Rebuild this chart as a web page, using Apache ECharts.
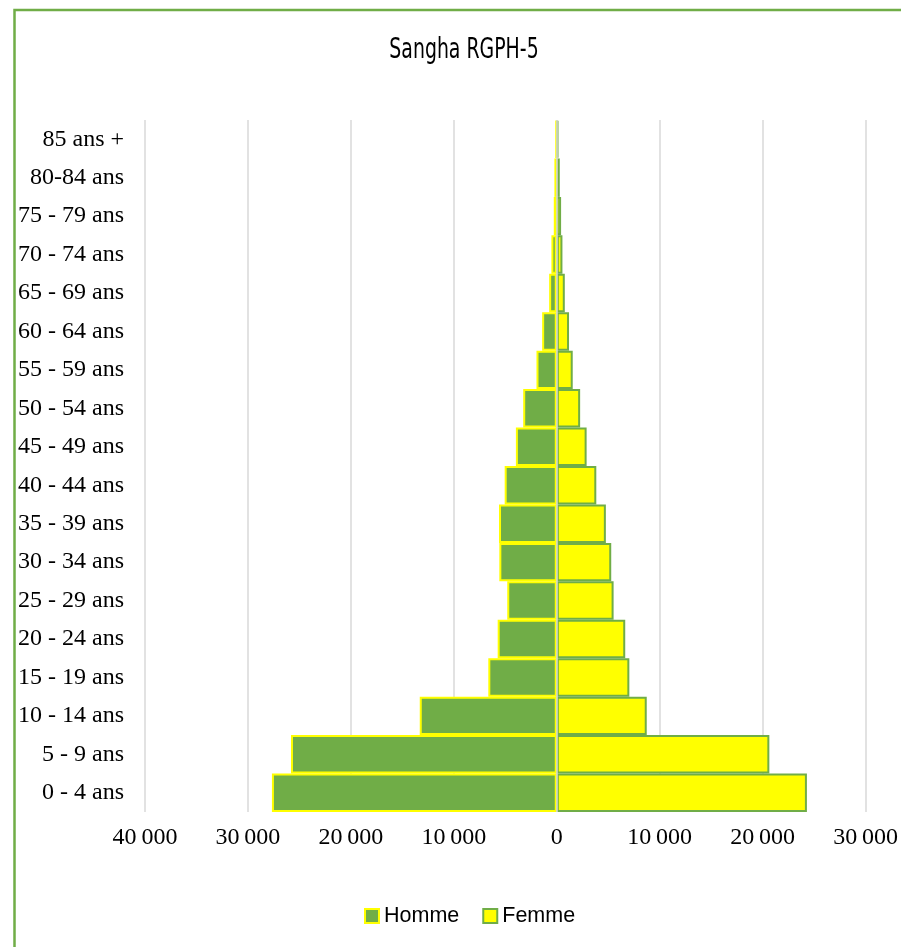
<!DOCTYPE html>
<html><head><meta charset="utf-8">
<script src="https://cdn.jsdelivr.net/npm/echarts@6/dist/echarts.min.js"></script>
<style>html,body{margin:0;padding:0;background:#fff}#chart{width:901px;height:947px}</style>
</head><body><div id="chart"></div>
<script>
const categories = ['0 - 4 ans','5 - 9 ans','10 - 14 ans','15 - 19 ans','20 - 24 ans','25 - 29 ans','30 - 34 ans','35 - 39 ans','40 - 44 ans','45 - 49 ans','50 - 54 ans','55 - 59 ans','60 - 64 ans','65 - 69 ans','70 - 74 ans','75 - 79 ans','80-84 ans','85 ans +'];
const homme = [27670, 25820, 13310, 6650, 5740, 4810, 5580, 5610, 5060, 3970, 3260, 1970, 1420, 740, 520, 290, 230, 100];
const femme = [24300, 20650, 8740, 7050, 6650, 5520, 5290, 4770, 3840, 2900, 2270, 1550, 1190, 780, 550, 420, 290, 140];
const tickValues = [-40000, -30000, -20000, -10000, 0, 10000, 20000, 30000];
const tickLabels = ['40\u2009000', '30\u2009000', '20\u2009000', '10\u2009000', '0', '10\u2009000', '20\u2009000', '30\u2009000'];
const seriesNames = ['Homme', 'Femme'];
const titleText = 'Sangha RGPH-5';

const GREEN = '#70AD47', YELLOW = '#FFFF00', GRID = '#D9D9D9';
const chart = echarts.init(document.getElementById('chart'), null, {renderer: 'canvas'});
chart.setOption({
  animation: false,
  backgroundColor: '#fff',
  graphic: [
    {
      type: 'rect', z: 100, silent: true,
      shape: {x: 14.5, y: 10, width: 1000, height: 1000},
      style: {fill: 'none', stroke: GREEN, lineWidth: 2.5}
    },
    {
      type: 'text', silent: true, x: 464, y: 51, scaleY: 1.35,
      style: {
        text: titleText, x: 0, y: 0, align: 'center', verticalAlign: 'middle',
        font: 'normal 21px "DejaVu Sans Condensed", "DejaVu Sans"', fill: '#000'
      }
    }
  ],
  legend: {
    data: seriesNames, left: 359, top: 900, itemWidth: 14, itemHeight: 14, itemGap: 23, icon: 'rect',
    textStyle: {fontFamily: 'Liberation Sans', fontSize: 21.5, color: '#000'}
  },
  grid: {left: 145, right: 33.7, top: 120, bottom: 135, containLabel: false},
  xAxis: {
    type: 'value', min: -40000, max: 30000, interval: 10000,
    axisLine: {show: false}, axisTick: {show: false},
    splitLine: {show: true, lineStyle: {color: GRID, width: 1.5}},
    axisLabel: {
      margin: 14, color: '#000', fontFamily: 'Liberation Serif', fontSize: 24,
      formatter: v => { const i = tickValues.indexOf(v); return i >= 0 ? tickLabels[i] : ''; }
    }
  },
  yAxis: {
    type: 'category', data: categories,
    axisLine: {show: false}, axisTick: {show: false}, splitLine: {show: false},
    axisLabel: {margin: 21, color: '#000', fontFamily: 'Liberation Serif', fontSize: 24}
  },
  series: [
    {
      name: seriesNames[0], type: 'bar', barGap: '-100%', barCategoryGap: '0%',
      data: homme.map(v => -v),
      itemStyle: {color: GREEN, borderColor: YELLOW, borderWidth: 2}
    },
    {
      name: seriesNames[1], type: 'bar', barGap: '-100%', barCategoryGap: '0%',
      data: femme,
      itemStyle: {color: YELLOW, borderColor: GREEN, borderWidth: 2},
      markLine: {
        silent: true, symbol: 'none', label: {show: false},
        lineStyle: {color: GRID, width: 1.5, type: 'solid'},
        data: [{xAxis: 0}]
      }
    }
  ]
});
</script></body></html>
